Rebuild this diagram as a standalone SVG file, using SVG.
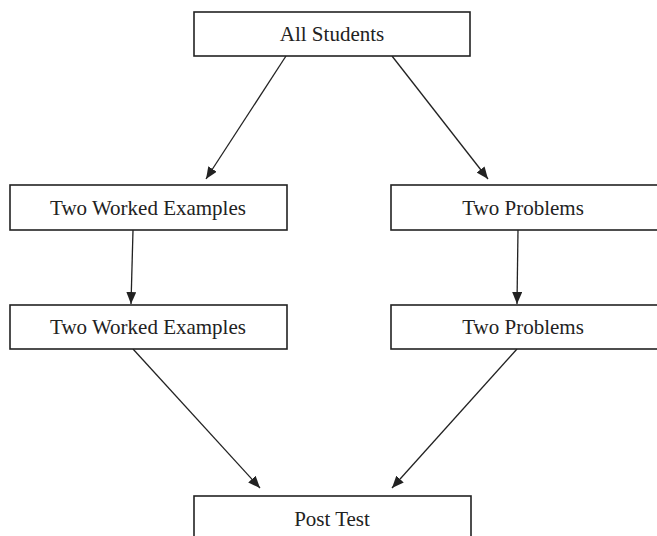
<svg xmlns="http://www.w3.org/2000/svg" width="657" height="536" viewBox="0 0 657 536">
<defs>
<style>
.box{fill:#fff;stroke:#222;stroke-width:1.6}
.lbl{font-family:"Liberation Serif","Times New Roman",serif;font-size:21px;fill:#222;text-anchor:middle}
.con{stroke:#222;stroke-width:1.3;fill:none;marker-end:url(#ah)}
</style>
<marker id="ah" viewBox="0 0 12 10" refX="12" refY="5" markerWidth="12" markerHeight="10" markerUnits="userSpaceOnUse" orient="auto">
<path d="M0,0 L12,5 L0,10 z" fill="#222"/>
</marker>
</defs>
<rect width="657" height="536" fill="#fff"/>
<g id="connectors">
<line class="con" x1="286" y1="56" x2="206" y2="179"/>
<line class="con" x1="392" y1="56" x2="488" y2="179"/>
<line class="con" x1="133" y1="230" x2="131" y2="304"/>
<line class="con" x1="518" y1="230" x2="517" y2="304"/>
<line class="con" x1="133" y1="349" x2="260" y2="488"/>
<line class="con" x1="517" y1="349" x2="392" y2="488"/>
</g>
<g id="n-all">
<rect class="box" x="194" y="12" width="276" height="44"/>
<text class="lbl" x="332" y="41">All Students</text>
</g>
<g id="n-we1">
<rect class="box" x="10" y="185" width="277" height="45"/>
<text class="lbl" x="148" y="215">Two Worked Examples</text>
</g>
<g id="n-p1">
<rect class="box" x="391" y="185" width="277" height="45"/>
<text class="lbl" x="523" y="215">Two Problems</text>
</g>
<g id="n-we2">
<rect class="box" x="10" y="305" width="277" height="44"/>
<text class="lbl" x="148" y="334">Two Worked Examples</text>
</g>
<g id="n-p2">
<rect class="box" x="391" y="305" width="277" height="44"/>
<text class="lbl" x="523" y="334">Two Problems</text>
</g>
<g id="n-post">
<rect class="box" x="194" y="496" width="277" height="50"/>
<text class="lbl" x="332" y="526">Post Test</text>
</g>
</svg>
